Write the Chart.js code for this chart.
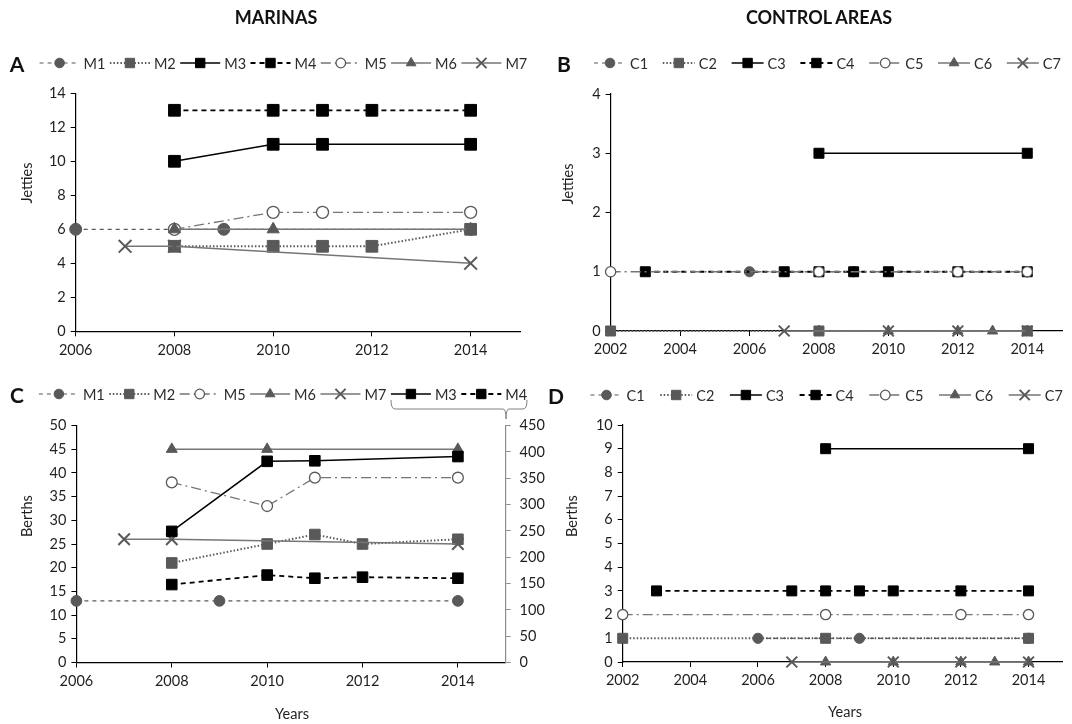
<!DOCTYPE html>
<html><head><meta charset="utf-8">
<script src="https://cdn.jsdelivr.net/npm/chart.js@4.4.0/dist/chart.umd.min.js"></script>
<style>
html,body{margin:0;padding:0;background:#fff;}
#wrap{position:relative;width:1072px;height:724px;overflow:hidden;background:#fff;}
canvas{position:absolute;left:0;top:0;}
.t{position:absolute;font-family:Lato,"Open Sans",sans-serif;color:#1a1a1a;white-space:nowrap;transform:translate(-50%,-50%);}
.ttl{font-weight:bold;font-size:18px;color:#111;}
.let{font-weight:bold;font-size:21px;color:#111;}
.ax{font-size:14.5px;color:#1f1f1f;}
.rot{transform:translate(-50%,-50%) rotate(-90deg);}
</style></head>
<body><div id="wrap">
<canvas id="cA" width="1072" height="724"></canvas>
<canvas id="cB" width="1072" height="724"></canvas>
<canvas id="cC" width="1072" height="724"></canvas>
<canvas id="cD" width="1072" height="724"></canvas>
<div class="t ttl" style="left:276px;top:17px;">MARINAS</div>
<div class="t ttl" style="left:819px;top:17px;">CONTROL AREAS</div>
<div class="t let" style="left:17px;top:63px;">A</div>
<div class="t let" style="left:564px;top:63px;">B</div>
<div class="t let" style="left:17px;top:394px;">C</div>
<div class="t let" style="left:556px;top:395px;">D</div>
<div class="t ax rot" style="left:26px;top:183px;">Jetties</div>
<div class="t ax rot" style="left:567px;top:184px;">Jetties</div>
<div class="t ax rot" style="left:26px;top:516px;">Berths</div>
<div class="t ax rot" style="left:571px;top:516px;">Berths</div>
<div class="t ax" style="left:292px;top:713px;">Years</div>
<div class="t ax" style="left:845px;top:711px;">Years</div>
</div>
<script>
// ---------------- DATA ----------------
const xTicksMarinas = [2006, 2008, 2010, 2012, 2014];
const xTicksControl = [2002, 2004, 2006, 2008, 2010, 2012, 2014];

// Panel A - marinas, jetties
const aM1Years = [2006, 2009, 2014];             const aM1 = [6, 6, 6];
const aM2Years = [2008, 2010, 2011, 2012, 2014]; const aM2 = [5, 5, 5, 5, 6];
const aM3Years = [2008, 2010, 2011, 2014];       const aM3 = [10, 11, 11, 11];
const aM4Years = [2008, 2010, 2011, 2012, 2014]; const aM4 = [13, 13, 13, 13, 13];
const aM5Years = [2008, 2010, 2011, 2014];       const aM5 = [6, 7, 7, 7];
const aM6Years = [2008, 2010, 2014];             const aM6 = [6, 6, 6];
const aM7Years = [2007, 2008, 2014];             const aM7 = [5, 5, 4];

// Panel B - control areas, jetties
const bC1Years = [2006, 2009, 2014];                         const bC1 = [1, 1, 1];
const bC2Years = [2002, 2008, 2014];                         const bC2 = [0, 0, 0];
const bC3Years = [2008, 2014];                               const bC3 = [3, 3];
const bC4Years = [2003, 2007, 2008, 2009, 2010, 2012, 2014]; const bC4 = [1, 1, 1, 1, 1, 1, 1];
const bC5Years = [2002, 2008, 2012, 2014];                   const bC5 = [1, 1, 1, 1];
const bC6Years = [2008, 2010, 2012, 2013, 2014];             const bC6 = [0, 0, 0, 0, 0];
const bC7Years = [2007, 2010, 2012, 2014];                   const bC7 = [0, 0, 0, 0];

// Panel C - marinas, berths (M3, M4 on secondary axis)
const cM1Years = [2006, 2009, 2014];             const cM1 = [13, 13, 13];
const cM2Years = [2008, 2010, 2011, 2012, 2014]; const cM2 = [21, 25, 27, 25, 26];
const cM5Years = [2008, 2010, 2011, 2014];       const cM5 = [38, 33, 39, 39];
const cM6Years = [2008, 2010, 2014];             const cM6 = [45, 45, 45];
const cM7Years = [2007, 2008, 2014];             const cM7 = [26, 26, 25];
const cM3Years = [2008, 2010, 2011, 2014];       const cM3 = [249, 382, 383, 391];
const cM4Years = [2008, 2010, 2011, 2012, 2014]; const cM4 = [148, 166, 160, 162, 160];

// Panel D - control areas, berths
const dC1Years = [2006, 2009, 2014];                         const dC1 = [1, 1, 1];
const dC2Years = [2002, 2008, 2014];                         const dC2 = [1, 1, 1];
const dC3Years = [2008, 2014];                               const dC3 = [9, 9];
const dC4Years = [2003, 2007, 2008, 2009, 2010, 2012, 2014]; const dC4 = [3, 3, 3, 3, 3, 3, 3];
const dC5Years = [2002, 2008, 2012, 2014];                   const dC5 = [2, 2, 2, 2];
const dC6Years = [2008, 2010, 2012, 2013, 2014];             const dC6 = [0, 0, 0, 0, 0];
const dC7Years = [2007, 2010, 2012, 2014];                   const dC7 = [0, 0, 0, 0];

// ---------------- STYLES ----------------
const FONT = 'Lato, "Open Sans", sans-serif';
const GRAY = '#595959', LGRAY = '#767676', BLACK = '#000000';
const ST = {
  s1: {borderColor: GRAY, borderWidth: 1.2, borderDash: [4, 4], pointStyle: 'circle', r: 6, pointBackgroundColor: GRAY, pointBorderColor: GRAY, pointBorderWidth: 1},
  s2: {borderColor: GRAY, borderWidth: 2, borderDash: [1.5, 2], pointStyle: 'rect', r: 8.3, pointBackgroundColor: GRAY, pointBorderColor: GRAY, pointBorderWidth: 1},
  s3: {borderColor: BLACK, borderWidth: 1.5, borderDash: [], pointStyle: 'rect', r: 8.3, pointBackgroundColor: BLACK, pointBorderColor: BLACK, pointBorderWidth: 1},
  s4: {borderColor: BLACK, borderWidth: 1.8, borderDash: [5, 4], pointStyle: 'rect', r: 8.3, pointBackgroundColor: BLACK, pointBorderColor: BLACK, pointBorderWidth: 1},
  s5: {borderColor: LGRAY, borderWidth: 1.3, borderDash: [10, 4, 2, 4], pointStyle: 'circle', r: 6, pointBackgroundColor: '#ffffff', pointBorderColor: GRAY, pointBorderWidth: 1.3},
  s6: {borderColor: LGRAY, borderWidth: 1.5, borderDash: [], pointStyle: 'triangle', r: 7, pointBackgroundColor: GRAY, pointBorderColor: GRAY, pointBorderWidth: 1},
  s7: {borderColor: LGRAY, borderWidth: 1.5, borderDash: [], pointStyle: 'crossRot', r: 9, pointBackgroundColor: GRAY, pointBorderColor: GRAY, pointBorderWidth: 2}
};

function ds(label, years, vals, st, k, axis) {
  return {
    label: label,
    data: years.map((x, i) => ({x: x, y: vals[i]})),
    borderColor: st.borderColor, borderWidth: st.borderWidth, borderDash: st.borderDash,
    pointStyle: st.pointStyle, pointRadius: st.r * k, pointHoverRadius: st.r * k,
    pointBackgroundColor: st.pointBackgroundColor, pointBorderColor: st.pointBorderColor,
    pointBorderWidth: st.pointBorderWidth,
    legendRadius: st.r * 0.8,
    yAxisID: axis || 'y', clip: false, fill: false, tension: 0, spanGaps: true
  };
}

// ---------------- PLUGIN: Excel-style legend ----------------
const excelLegend = {
  id: 'excelLegend',
  afterDraw(chart) {
    const o = chart.config.options.excel;
    if (!o) return;
    const ctx = chart.ctx;
    ctx.save();
    chart.data.datasets.forEach((d, k) => {
      const x = o.x0 + k * o.pitch, y = o.y;
      ctx.strokeStyle = d.borderColor; ctx.lineWidth = d.borderWidth;
      ctx.setLineDash(d.borderDash || []);
      ctx.beginPath(); ctx.moveTo(x, y); ctx.lineTo(x + o.len, y); ctx.stroke();
      ctx.setLineDash([]);
      ctx.fillStyle = d.pointBackgroundColor; ctx.strokeStyle = d.pointBorderColor;
      ctx.lineWidth = d.pointBorderWidth;
      Chart.helpers.drawPoint(ctx, {pointStyle: d.pointStyle, rotation: 0, radius: d.legendRadius, borderWidth: d.pointBorderWidth}, x + o.len / 2, y);
      ctx.fillStyle = '#2b2b2b';
      ctx.font = '14.5px ' + FONT;
      ctx.textAlign = 'left'; ctx.textBaseline = 'middle';
      ctx.fillText(d.label, x + o.len + 4, y + 1);
    });
    if (o.bracket) {
      const b = o.bracket;
      ctx.strokeStyle = '#808080'; ctx.lineWidth = 1;
      ctx.beginPath();
      ctx.moveTo(b.x1, b.top);
      ctx.quadraticCurveTo(b.x1, b.mid, b.x1 + 4, b.mid);
      ctx.lineTo(b.xm - 3, b.mid);
      ctx.quadraticCurveTo(b.xm, b.mid, b.xm, b.tip);
      ctx.quadraticCurveTo(b.xm, b.mid, b.xm + 3, b.mid);
      ctx.lineTo(b.x2 - 4, b.mid);
      ctx.quadraticCurveTo(b.x2, b.mid, b.x2, b.top);
      ctx.stroke();
    }
    ctx.restore();
  }
};

const W = 1072, H = 724;
function axisCommon(color) {
  return {
    grid: {drawOnChartArea: false, drawTicks: true, tickLength: 5, color: color, lineWidth: 1},
    border: {display: true, color: color, width: 1.2},
    ticks: {font: {family: FONT, size: 14.5}, color: '#1f1f1f', padding: 5, autoSkip: false, maxRotation: 0}
  };
}

function makeChart(id, datasets, p) {
  const xc = axisCommon('#000');
  const yc = axisCommon('#000');
  const scales = {
    x: Object.assign({}, xc, {
      type: 'linear', min: p.xmin, max: p.xmax, position: 'bottom',
      ticks: Object.assign({}, xc.ticks, {padding: 5, includeBounds: false, callback: v => String(v)}),
      afterBuildTicks: s => { s.ticks = p.xticks.map(v => ({value: v})); },
      afterFit: s => { s.height = H - p.bottom; }
    }),
    y: Object.assign({}, yc, {
      type: 'linear', min: 0, max: p.ymax, position: 'left',
      ticks: Object.assign({}, yc.ticks, {stepSize: p.ystep, callback: v => String(v)}),
      afterFit: s => { s.width = p.left; }
    })
  };
  if (p.y2max) {
    const y2c = axisCommon('#8c8c8c');
    scales.y2 = Object.assign({}, y2c, {
      type: 'linear', min: 0, max: p.y2max, position: 'right',
      ticks: Object.assign({}, y2c.ticks, {stepSize: p.y2step, padding: 9, callback: v => String(v)}),
      afterFit: s => { s.width = W - p.right; }
    });
  }
  const n = datasets.length;
  datasets.forEach((d, i) => { d.order = n - i; });
  return new Chart(document.getElementById(id), {
    type: 'line',
    data: {datasets: datasets},
    options: {
      responsive: false, animation: false, events: [],
      layout: {padding: {left: 0, top: p.top, right: p.y2max ? 0 : W - p.right, bottom: 0}},
      plugins: {legend: {display: false}, tooltip: {enabled: false}},
      scales: scales,
      excel: p.legend
    },
    plugins: [excelLegend]
  });
}

// Panel A
makeChart('cA', [
  ds('M1', aM1Years, aM1, ST.s1, 1), ds('M2', aM2Years, aM2, ST.s2, 1),
  ds('M3', aM3Years, aM3, ST.s3, 1), ds('M4', aM4Years, aM4, ST.s4, 1),
  ds('M5', aM5Years, aM5, ST.s5, 1), ds('M6', aM6Years, aM6, ST.s6, 1),
  ds('M7', aM7Years, aM7, ST.s7, 1)
], {left: 75.7, right: 520, top: 93.3, bottom: 331.3, xmin: 2006, xmax: 2015, xticks: xTicksMarinas,
    ymax: 14, ystep: 2, legend: {x0: 39.6, pitch: 70.3, y: 63, len: 40}});

// Panel B
makeChart('cB', [
  ds('C1', bC1Years, bC1, ST.s1, 0.85), ds('C2', bC2Years, bC2, ST.s2, 0.85),
  ds('C3', bC3Years, bC3, ST.s3, 0.85), ds('C4', bC4Years, bC4, ST.s4, 0.85),
  ds('C5', bC5Years, bC5, ST.s5, 0.85), ds('C6', bC6Years, bC6, ST.s6, 0.85),
  ds('C7', bC7Years, bC7, ST.s7, 0.85)
], {left: 610.6, right: 1062, top: 94, bottom: 331, xmin: 2002, xmax: 2015, xticks: xTicksControl,
    ymax: 4, ystep: 1, legend: {x0: 594, pitch: 68.8, y: 63, len: 32}});

// Panel C
makeChart('cC', [
  ds('M1', cM1Years, cM1, ST.s1, 0.9), ds('M2', cM2Years, cM2, ST.s2, 0.9),
  ds('M5', cM5Years, cM5, ST.s5, 0.9), ds('M6', cM6Years, cM6, ST.s6, 0.9),
  ds('M7', cM7Years, cM7, ST.s7, 0.9),
  ds('M3', cM3Years, cM3, ST.s3, 0.9, 'y2'), ds('M4', cM4Years, cM4, ST.s4, 0.9, 'y2')
], {left: 76.4, right: 505.6, top: 425.5, bottom: 662.5, xmin: 2006, xmax: 2015, xticks: xTicksMarinas,
    ymax: 50, ystep: 5, y2max: 450, y2step: 50,
    legend: {x0: 38.9, pitch: 70.4, y: 394, len: 40,
      bracket: {x1: 391, x2: 527, top: 400, mid: 409, xm: 506, tip: 419}}});

// Panel D
makeChart('cD', [
  ds('C1', dC1Years, dC1, ST.s1, 0.85), ds('C2', dC2Years, dC2, ST.s2, 0.85),
  ds('C3', dC3Years, dC3, ST.s3, 0.85), ds('C4', dC4Years, dC4, ST.s4, 0.85),
  ds('C5', dC5Years, dC5, ST.s5, 0.85), ds('C6', dC6Years, dC6, ST.s6, 0.85),
  ds('C7', dC7Years, dC7, ST.s7, 0.85)
], {left: 622.7, right: 1067.5, top: 425, bottom: 662, xmin: 2002, xmax: 2015, xticks: xTicksControl,
    ymax: 10, ystep: 1, legend: {x0: 590.5, pitch: 69.7, y: 395, len: 32}});
</script>
</body></html>
